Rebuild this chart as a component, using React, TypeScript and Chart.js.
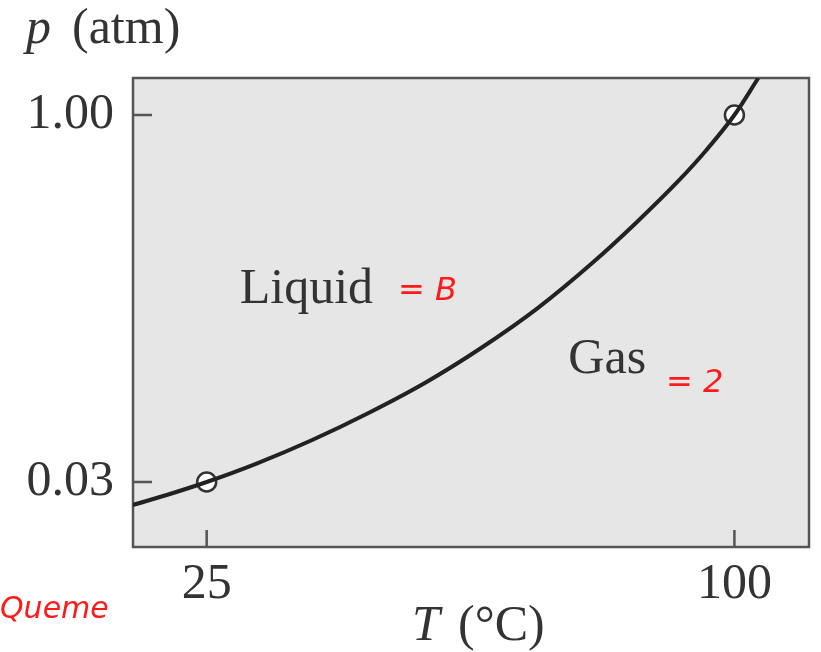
import React, { useEffect, useRef } from "react";
import { Chart, registerables } from "chart.js";

Chart.register(...registerables);

// Vapour-pressure curve of water (schematic)
const curveT = [14.5, 20, 25, 32, 40, 48, 56, 64, 72, 80, 86, 92, 96, 100, 103.4];
const curveP = [-0.0308, -0.0004, 0.03, 0.078, 0.141, 0.2124, 0.2917, 0.3842, 0.489, 0.612, 0.7146, 0.825, 0.907, 1.0, 1.0978];

// Marked points
const markT = [25, 100];
const markP = [0.03, 1.0];

// Tick labels
const xTicks = [25, 100];
const yTicks = [0.03, 1.0];

const X_MIN = 14.53;
const X_MAX = 110.6;
const Y_MIN = -0.1418;
const Y_MAX = 1.0978;

const SERIF = "'Liberation Serif', 'DejaVu Serif', serif";
const TEXT = "#333333";

const decor = {
  id: "decor",
  beforeDraw(chart: any) {
    const { ctx, chartArea: a } = chart;
    ctx.save();
    ctx.fillStyle = "#e6e6e6";
    ctx.fillRect(a.left, a.top, a.right - a.left, a.bottom - a.top);
    ctx.restore();
  },
  beforeDatasetsDraw(chart: any) {
    const { ctx, chartArea: a, scales } = chart;
    ctx.save();
    ctx.strokeStyle = "#555555";
    ctx.lineWidth = 2.5;
    ctx.strokeRect(a.left, a.top, a.right - a.left, a.bottom - a.top);
    ctx.beginPath();
    xTicks.forEach((t) => {
      const px = scales.x.getPixelForValue(t);
      ctx.moveTo(px, a.bottom);
      ctx.lineTo(px, a.bottom - 17);
    });
    yTicks.forEach((v) => {
      const py = scales.y.getPixelForValue(v);
      ctx.moveTo(a.left, py);
      ctx.lineTo(a.left + 19, py);
    });
    ctx.stroke();
    ctx.restore();
  },
  afterDraw(chart: any) {
    const { ctx, scales } = chart;
    ctx.save();
    ctx.fillStyle = TEXT;
    ctx.textBaseline = "alphabetic";
    ctx.textAlign = "left";
    // axis titles
    ctx.font = `italic 50px ${SERIF}`;
    ctx.fillText("p", 26, 43);
    ctx.font = `50px ${SERIF}`;
    ctx.fillText("(atm)", 72, 43);
    ctx.font = `italic 50px ${SERIF}`;
    ctx.fillText("T", 412, 640);
    ctx.font = `50px ${SERIF}`;
    ctx.fillText("(°C)", 458, 640);
    // region labels
    ctx.fillText("Liquid", scales.x.getPixelForValue(29.7), scales.y.getPixelForValue(0.503));
    ctx.fillText("Gas", scales.x.getPixelForValue(76.4), scales.y.getPixelForValue(0.318));
    // red handwritten notes
    ctx.fillStyle = "#ff1a1a";
    ctx.font = `italic 32px 'DejaVu Sans', sans-serif`;
    ctx.fillText("= B", 398, 300);
    ctx.fillText("= 2", 666, 392);
    ctx.font = `italic 30px 'DejaVu Sans', sans-serif`;
    ctx.fillText("Queme", 0, 618);
    ctx.restore();
  },
};

export default function App() {
  const ref = useRef<HTMLCanvasElement | null>(null);

  useEffect(() => {
    if (!ref.current) return;
    const chart = new Chart(ref.current, {
      type: "line",
      data: {
        datasets: [
          {
            data: curveT.map((t, i) => ({ x: t, y: curveP[i] })),
            borderColor: "#222222",
            borderWidth: 4,
            pointRadius: 0,
            cubicInterpolationMode: "monotone",
            fill: false,
          },
          {
            data: markT.map((t, i) => ({ x: t, y: markP[i] })),
            showLine: false,
            pointRadius: 9.5,
            pointHoverRadius: 9.5,
            pointBackgroundColor: "#ffffff",
            pointBorderColor: "#333333",
            pointBorderWidth: 2.5,
            clip: false,
          } as any,
        ],
      },
      plugins: [decor],
      options: {
        animation: false,
        responsive: true,
        maintainAspectRatio: false,
        layout: { padding: { top: 78, right: 9, left: 0, bottom: 0 } },
        plugins: { legend: { display: false }, tooltip: { enabled: false } },
        scales: {
          x: {
            type: "linear",
            min: X_MIN,
            max: X_MAX,
            grid: { display: false },
            border: { display: false },
            afterBuildTicks: (s: any) => {
              s.ticks = xTicks.map((v) => ({ value: v }));
            },
            afterFit: (s: any) => {
              s.height = 105;
            },
            ticks: {
              padding: 0,
              color: TEXT,
              font: { family: SERIF, size: 50 },
              maxRotation: 0,
              autoSkip: false,
              callback: (v: any) => String(v),
            },
          },
          y: {
            type: "linear",
            min: Y_MIN,
            max: Y_MAX,
            grid: { display: false },
            border: { display: false },
            afterBuildTicks: (s: any) => {
              s.ticks = yTicks.map((v) => ({ value: v }));
            },
            afterFit: (s: any) => {
              s.width = 133;
            },
            ticks: {
              padding: 11,
              color: TEXT,
              font: { family: SERIF, size: 50 },
              autoSkip: false,
              callback: (v: any) => Number(v).toFixed(2),
            },
          },
        },
      },
    } as any);
    return () => chart.destroy();
  }, []);

  return (
    <div style={{ position: "fixed", left: 0, top: 0, width: 821, height: 652, background: "#ffffff" }}>
      <canvas ref={ref} />
    </div>
  );
}
